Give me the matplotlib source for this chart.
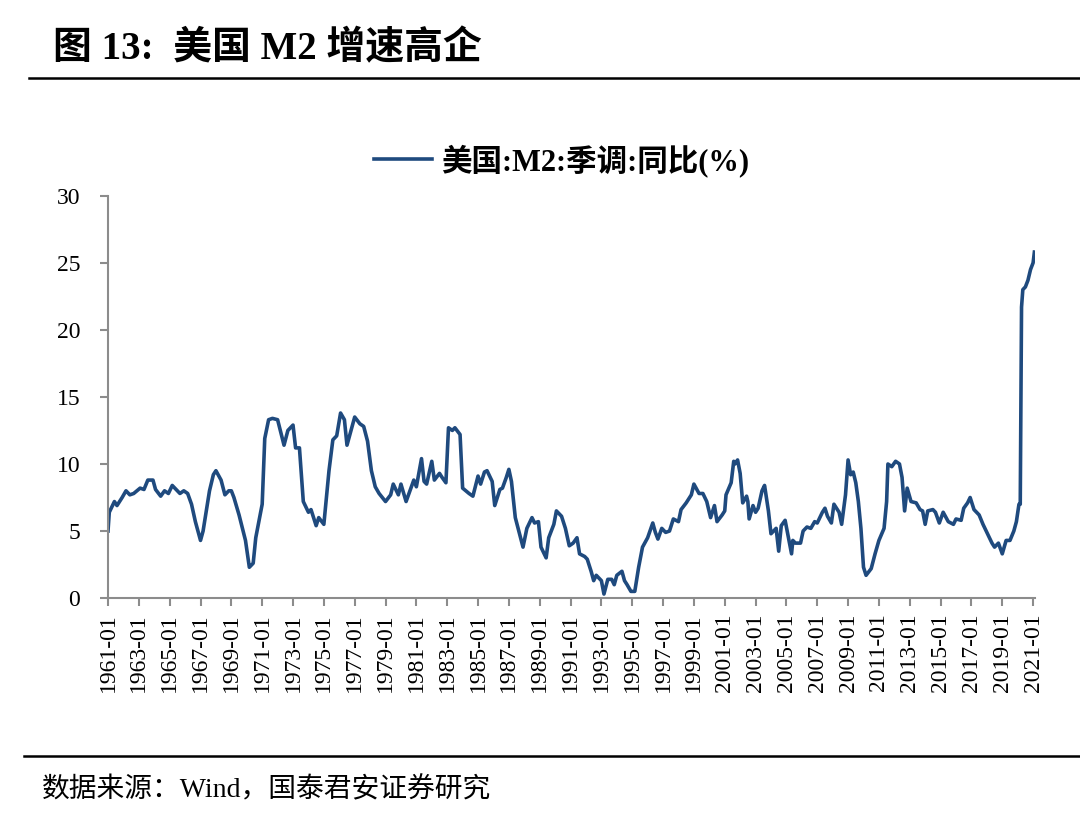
import matplotlib
matplotlib.use("Agg")
import matplotlib.pyplot as plt
from matplotlib.lines import Line2D

plt.rcParams['font.family'] = ['Liberation Serif', 'Noto Sans CJK SC']
plt.rcParams['axes.unicode_minus'] = False

# 美国:M2:季调:同比(%)，按月份读图取值
months = [
    "1961-01", "1961-02", "1961-06", "1961-08", "1961-12", "1962-03", "1962-06", "1962-09",
    "1963-02", "1963-05", "1963-08", "1963-12", "1964-02", "1964-06", "1964-09", "1964-12",
    "1965-03", "1965-09", "1965-12", "1966-03", "1966-06", "1966-09", "1967-01", "1967-03",
    "1967-08", "1967-11", "1968-01", "1968-05", "1968-08", "1968-11", "1969-01", "1969-03",
    "1969-07", "1969-12", "1970-03", "1970-06", "1970-08", "1971-01", "1971-03", "1971-06",
    "1971-09", "1972-01", "1972-06", "1972-09", "1973-01", "1973-03", "1973-06", "1973-09",
    "1974-01", "1974-03", "1974-07", "1974-09", "1975-01", "1975-05", "1975-08", "1975-11",
    "1976-02", "1976-05", "1976-07", "1976-11", "1977-01", "1977-05", "1977-08", "1977-11",
    "1978-02", "1978-05", "1978-08", "1979-01", "1979-05", "1979-07", "1979-11", "1980-01",
    "1980-05", "1980-08", "1980-11", "1981-01", "1981-05", "1981-07", "1981-09", "1982-01",
    "1982-03", "1982-07", "1982-09", "1982-12", "1983-02", "1983-05", "1983-07", "1983-11",
    "1984-01", "1984-06", "1984-09", "1985-01", "1985-03", "1985-06", "1985-08", "1985-12",
    "1986-02", "1986-06", "1986-08", "1986-11", "1987-01", "1987-03", "1987-06", "1987-09",
    "1987-12", "1988-03", "1988-07", "1988-09", "1988-12", "1989-02", "1989-06", "1989-08",
    "1989-12", "1990-02", "1990-06", "1990-09", "1990-12", "1991-03", "1991-06", "1991-08",
    "1991-12", "1992-02", "1992-05", "1992-07", "1992-09", "1993-01", "1993-03", "1993-06",
    "1993-09", "1993-11", "1994-01", "1994-05", "1994-07", "1994-09", "1994-12", "1995-03",
    "1995-06", "1995-09", "1996-01", "1996-05", "1996-07", "1996-09", "1996-12", "1997-03",
    "1997-06", "1997-09", "1998-01", "1998-03", "1998-07", "1998-11", "1999-01", "1999-05",
    "1999-08", "1999-11", "2000-02", "2000-05", "2000-07", "2000-11", "2001-01", "2001-02",
    "2001-06", "2001-08", "2001-09", "2001-11", "2002-01", "2002-03", "2002-06", "2002-07",
    "2002-08", "2002-11", "2003-01", "2003-03", "2003-06", "2003-08", "2003-11", "2004-01",
    "2004-05", "2004-07", "2004-09", "2004-12", "2005-02", "2005-05", "2005-06", "2005-08",
    "2005-12", "2006-02", "2006-05", "2006-08", "2006-11", "2007-01", "2007-05", "2007-07",
    "2007-09", "2007-12", "2008-02", "2008-06", "2008-08", "2008-11", "2009-01", "2009-03",
    "2009-05", "2009-07", "2009-09", "2009-11", "2010-01", "2010-03", "2010-07", "2010-10",
    "2011-01", "2011-05", "2011-07", "2011-08", "2011-11", "2012-02", "2012-05", "2012-07",
    "2012-09", "2012-11", "2013-02", "2013-06", "2013-09", "2013-11", "2014-01", "2014-03",
    "2014-07", "2014-09", "2014-12", "2015-03", "2015-07", "2015-11", "2016-01", "2016-05",
    "2016-07", "2016-10", "2016-12", "2017-03", "2017-07", "2017-10", "2018-01", "2018-05",
    "2018-07", "2018-10", "2019-01", "2019-04", "2019-07", "2019-10", "2019-12", "2020-02",
    "2020-03", "2020-04", "2020-05", "2020-07", "2020-09", "2020-11", "2021-01", "2021-02",
]
m2_yoy = [
    5.0, 6.4, 7.2, 6.9, 7.5, 8.0, 7.7, 7.8,
    8.2, 8.1, 8.8, 8.8, 8.1, 7.6, 8.0, 7.8,
    8.4, 7.8, 8.0, 7.8, 7.0, 5.7, 4.3, 5.0,
    8.0, 9.2, 9.5, 8.8, 7.7, 8.0, 8.0, 7.5,
    6.2, 4.3, 2.3, 2.6, 4.5, 7.0, 11.9, 13.3,
    13.4, 13.3, 11.4, 12.5, 12.9, 11.2, 11.2, 7.2,
    6.4, 6.6, 5.4, 6.0, 5.5, 9.5, 11.8, 12.1,
    13.8, 13.3, 11.4, 12.8, 13.5, 13.0, 12.8, 11.7,
    9.5, 8.3, 7.8, 7.2, 7.7, 8.5, 7.7, 8.5,
    7.2, 8.0, 8.8, 8.3, 10.4, 8.7, 8.5, 10.2,
    8.8, 9.3, 9.0, 8.6, 12.7, 12.5, 12.7, 12.2,
    8.2, 7.8, 7.6, 9.1, 8.5, 9.4, 9.5, 8.7,
    6.9, 8.1, 8.2, 9.0, 9.6, 8.7, 6.0, 4.9,
    3.8, 5.2, 6.0, 5.6, 5.7, 3.8, 3.0, 4.5,
    5.5, 6.5, 6.1, 5.2, 3.9, 4.1, 4.5, 3.3,
    3.1, 2.9, 2.0, 1.3, 1.7, 1.3, 0.3, 1.4,
    1.4, 1.0, 1.7, 2.0, 1.3, 1.0, 0.5, 0.5,
    2.3, 3.8, 4.5, 5.6, 4.9, 4.4, 5.2, 4.9,
    5.0, 5.9, 5.7, 6.6, 7.1, 7.7, 8.5, 7.8,
    7.8, 7.2, 6.0, 6.9, 5.7, 6.2, 6.5, 7.7,
    8.6, 10.2, 10.0, 10.3, 9.3, 7.1, 7.6, 7.2,
    5.9, 6.9, 6.4, 6.7, 8.0, 8.4, 6.5, 4.8,
    5.2, 3.5, 5.4, 5.8, 4.8, 3.3, 4.3, 4.1,
    4.1, 5.0, 5.3, 5.2, 5.7, 5.6, 6.4, 6.7,
    6.1, 5.6, 7.0, 6.4, 5.5, 7.7, 10.3, 9.2,
    9.4, 8.6, 7.2, 5.2, 2.3, 1.7, 2.2, 3.3,
    4.3, 5.2, 7.2, 10.0, 9.8, 10.2, 10.0, 9.0,
    6.5, 8.2, 7.2, 7.1, 6.6, 6.5, 5.5, 6.5,
    6.6, 6.4, 5.6, 6.4, 5.7, 5.5, 5.9, 5.8,
    6.7, 7.1, 7.5, 6.6, 6.2, 5.5, 4.9, 4.1,
    3.8, 4.1, 3.3, 4.3, 4.3, 5.0, 5.7, 7.0,
    7.0, 21.7, 23.0, 23.2, 23.7, 24.5, 25.0, 25.8,
]
tick_years = list(range(1961, 2022, 2))
tick_labels = [f"{y}-01" for y in tick_years]

x = [int(m[:4]) + (int(m[5:]) - 1) / 12 for m in months]

line_color = "#1F4A7E"
axis_color = "#8C8C8C"

fig = plt.figure(figsize=(10.8, 8.33), dpi=100)
ax = fig.add_axes([0.1, 0.282, 0.858, 0.483])

ax.plot(x, m2_yoy, color=line_color, lw=2.6, solid_joinstyle="round")

ax.set_xlim(1961.0, 2021.1)
ax.set_ylim(0, 30)
ax.set_yticks(range(0, 31, 5))
ax.set_xticks(tick_years)
ax.set_xticklabels(tick_labels, rotation=90)

for s in ["top", "right"]:
    ax.spines[s].set_visible(False)
for s in ["left", "bottom"]:
    ax.spines[s].set_color(axis_color)
    ax.spines[s].set_linewidth(1.5)

ax.tick_params(axis="y", colors=axis_color, length=6, width=1.5, pad=14,
               labelsize=17, labelcolor="black")
ax.tick_params(axis="x", colors=axis_color, length=6, width=1.5, pad=5,
               labelsize=17, labelcolor="black")

handle = Line2D([], [], color=line_color, lw=2.6)
ax.legend([handle], ["美国:M2:季调:同比(%)"], loc="center",
          bbox_to_anchor=(0.49, 1.088), frameon=False, handlelength=1.9,
          handletextpad=0.3, prop={"size": 22, "weight": "bold"})

# 标题和来源
fig.text(0.049, 0.941, "图 13:  美国 M2 增速高企", fontsize=28, fontweight="bold",
         ha="left", va="center")
fig.add_artist(Line2D([0.027, 1.0], [0.906, 0.906], color="black", lw=1.8))
fig.add_artist(Line2D([0.022, 1.0], [0.0925, 0.0925], color="black", lw=1.8))
fig.text(0.039, 0.052, "数据来源：Wind，国泰君安证券研究", fontsize=20,
         ha="left", va="center")

fig.savefig("out.png", dpi=100)
